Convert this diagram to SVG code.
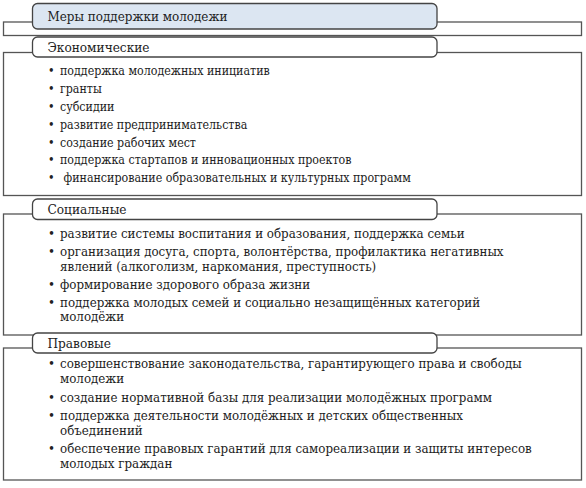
<svg xmlns="http://www.w3.org/2000/svg" width="586" height="488" viewBox="0 0 586 488">
<style>
.frame{fill:#fff;stroke:#555;stroke-width:1.3}
.label{fill:#fff;stroke:#444;stroke-width:1.3}
.head{fill:#dce6f2;stroke:#444;stroke-width:1.3}
text{font-family:'DejaVu Serif Condensed','DejaVu Serif',serif;font-stretch:condensed;fill:#222}
.h{font-size:13.3px}
.lt{font-size:13.5px}
#economic text.b{font-size:12.3px}
#social text.b{font-size:13.2px}
#legal text.b{font-size:13.2px}
</style>
<rect width="586" height="488" fill="#fff"/>
<g id="connectors"></g>
<g id="frame-top"><rect class="frame" x="3.5" y="22" width="578" height="13.5"/></g>
<g id="header"><rect class="head" x="32.5" y="3.5" width="404.5" height="25.5" rx="5"/><text class="h" x="47.5" y="21">Меры поддержки молодежи</text></g>

<g id="economic">
<rect class="frame" x="3.5" y="52.5" width="578" height="143"/>
<rect class="label" x="32.5" y="37" width="404.5" height="20" rx="5"/>
<text class="lt" x="47.5" y="51.5">Экономические</text>
<text class="b" x="48" y="75.3">•</text><text class="b" x="60" y="75.3">поддержка молодежных инициатив</text>
<text class="b" x="48" y="93.1">•</text><text class="b" x="60" y="93.1">гранты</text>
<text class="b" x="48" y="110.9">•</text><text class="b" x="60" y="110.9">субсидии</text>
<text class="b" x="48" y="128.7">•</text><text class="b" x="60" y="128.7">развитие предпринимательства</text>
<text class="b" x="48" y="146.5">•</text><text class="b" x="60" y="146.5">создание рабочих мест</text>
<text class="b" x="48" y="164.3">•</text><text class="b" x="60" y="164.3">поддержка стартапов и инновационных проектов</text>
<text class="b" x="48" y="182.1">•</text><text class="b" x="63.5" y="182.1">финансирование образовательных и культурных программ</text>
</g>

<g id="social">
<rect class="frame" x="3.5" y="214" width="578" height="121"/>
<rect class="label" x="32.5" y="199" width="404.5" height="20.5" rx="5"/>
<text class="lt" x="47.5" y="213.5">Социальные</text>
<text class="b" x="48" y="238.3">•</text><text class="b" x="60" y="238.3">развитие системы воспитания и образования, поддержка семьи</text>
<text class="b" x="48" y="256">•</text><text class="b" x="60" y="256">организация досуга, спорта, волонтёрства, профилактика негативных</text>
<text class="b" x="60" y="270.5">явлений (алкоголизм, наркомания, преступность)</text>
<text class="b" x="48" y="288.7">•</text><text class="b" x="60" y="288.7">формирование здорового образа жизни</text>
<text class="b" x="48" y="306.7">•</text><text class="b" x="60" y="306.7">поддержка молодых семей и социально незащищённых категорий</text>
<text class="b" x="60" y="321.2">молодёжи</text>
</g>

<g id="legal">
<rect class="frame" x="3.5" y="348" width="578" height="132"/>
<rect class="label" x="32.5" y="333" width="404.5" height="20" rx="5"/>
<text class="lt" x="47.5" y="347.5">Правовые</text>
<text class="b" x="48" y="368.3">•</text><text class="b" x="60" y="368.3">совершенствование законодательства, гарантирующего права и свободы</text>
<text class="b" x="60" y="383.3">молодежи</text>
<text class="b" x="48" y="402">•</text><text class="b" x="60" y="402">создание нормативной базы для реализации молодёжных программ</text>
<text class="b" x="48" y="420">•</text><text class="b" x="60" y="420">поддержка деятельности молодёжных и детских общественных</text>
<text class="b" x="60" y="435">объединений</text>
<text class="b" x="48" y="453.3">•</text><text class="b" x="60" y="453.3">обеспечение правовых гарантий для самореализации и защиты интересов</text>
<text class="b" x="60" y="468.3">молодых граждан</text>
</g>
</svg>
